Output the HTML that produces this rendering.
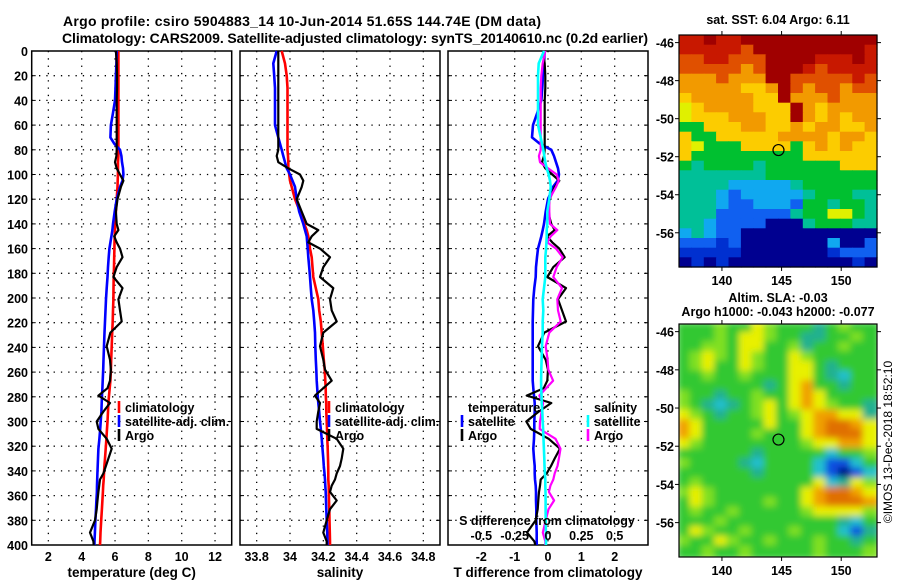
<!DOCTYPE html>
<html><head><meta charset="utf-8"><style>
body{margin:0;background:#fff;}
svg{display:block;font-family:"Liberation Sans",sans-serif;font-weight:bold;}
</style></head><body>
<svg id="fig" width="900" height="580" viewBox="0 0 900 580">
<defs>
<filter id="blur" x="0" y="0" width="1" height="1"><feGaussianBlur stdDeviation="3.5"/></filter>
<clipPath id="clipMap2"><rect x="679" y="324" width="198" height="233"/></clipPath>
</defs>
<g id="titles">
<text x="302" y="26" font-size="14" text-anchor="middle" textLength="478">Argo profile: csiro 5904883_14 10-Jun-2014 51.65S 144.74E (DM data)</text>
<text x="355" y="43" font-size="14" text-anchor="middle" textLength="586">Climatology: CARS2009. Satellite-adjusted climatology: synTS_20140610.nc (0.2d earlier)</text>
</g>
<g id="panels"></g>
<g id="maps"></g>
<text transform="translate(892,442) rotate(-90)" font-size="12" font-weight="normal" text-anchor="middle">©IMOS 13-Dec-2018 18:52:10</text>
</svg>
<script>
// ---- data ----
const depths = [0,10,20,30,40,50,60,70,75,80,85,90,95,100,105,110,120,130,140,145,150,155,160,167,175,183,192,201,210,219,228,239,250,258,267,273,279,285,292,300,306,314,322,330,336,342,347,352,357,364,371,380,390,397,400];
const climT = [6.2,6.2,6.2,6.2,6.2,6.2,6.2,6.2,6.2,6.2,6.2,6.18,6.18,6.17,6.16,6.15,6.1,6.05,6.0,6.0,5.98,5.97,5.96,5.95,5.94,5.92,5.91,5.9,5.88,5.86,5.83,5.8,5.77,5.75,5.72,5.68,5.64,5.6,5.58,5.55,5.52,5.48,5.44,5.4,5.36,5.34,5.32,5.29,5.27,5.24,5.21,5.17,5.13,5.11,5.1];
const satT = [6.1,6.08,6.05,6.03,6.0,5.88,5.75,5.72,5.95,6.3,6.38,6.42,6.48,6.5,6.45,6.3,6.1,5.98,5.88,5.84,5.78,5.72,5.66,5.62,5.58,5.55,5.5,5.46,5.43,5.4,5.37,5.34,5.31,5.29,5.26,5.24,5.22,5.2,5.18,5.14,5.11,5.06,5.0,4.98,4.96,4.94,4.93,4.92,4.91,4.88,4.86,4.82,4.79,4.77,4.76];
const argoT = [6.05,6.1,6.12,6.12,6.1,6.1,6.1,6.1,6.1,6.1,6.08,6.0,6.1,6.3,6.5,6.35,6.15,6.05,6.1,6.2,5.95,6.1,6.3,6.45,6.1,5.9,6.45,6.2,6.3,6.4,5.72,5.5,5.7,5.75,5.7,5.55,5.0,5.7,5.3,4.9,5.0,5.5,5.8,5.6,5.45,5.3,5.1,5.05,5.0,4.95,4.9,4.8,4.5,4.7,4.72];
const climS = [33.95,33.97,33.98,33.985,33.985,33.985,33.985,33.985,33.985,33.985,33.988,33.99,33.99,33.995,34.0,34.01,34.03,34.06,34.085,34.1,34.11,34.115,34.12,34.13,34.135,34.14,34.155,34.17,34.175,34.185,34.19,34.197,34.203,34.208,34.212,34.214,34.215,34.217,34.218,34.22,34.222,34.224,34.226,34.228,34.229,34.23,34.23,34.232,34.233,34.234,34.236,34.237,34.239,34.24,34.24];
const satS = [33.92,33.9,33.905,33.91,33.91,33.91,33.91,33.93,33.94,33.95,33.96,33.97,33.98,34.0,34.015,34.03,34.04,34.055,34.08,34.09,34.1,34.103,34.106,34.11,34.115,34.12,34.125,34.13,34.14,34.145,34.15,34.152,34.155,34.158,34.16,34.163,34.166,34.17,34.175,34.18,34.185,34.19,34.195,34.2,34.203,34.207,34.21,34.212,34.214,34.216,34.218,34.22,34.223,34.225,34.225];
const argoS = [33.93,33.93,33.93,33.93,33.93,33.93,33.93,33.93,33.93,33.93,33.92,33.93,33.99,34.06,34.08,34.07,34.04,34.07,34.1,34.17,34.13,34.11,34.18,34.24,34.2,34.18,34.26,34.24,34.25,34.28,34.2,34.18,34.2,34.21,34.25,34.2,34.15,34.18,34.17,34.16,34.16,34.28,34.32,34.31,34.3,34.28,34.27,34.25,34.24,34.28,34.24,34.22,34.2,34.22,34.22];
const depthTicks = [0,20,40,60,80,100,120,140,160,180,200,220,240,260,280,300,320,340,360,380,400];
const tTicks = [2,4,6,8,10,12];
const sTicks = [33.8,34.0,34.2,34.4,34.6,34.8];
const sTickLabels = ["33.8","34","34.2","34.4","34.6","34.8"];
const dTTicks = [-2,-1,0,1,2];
const dSTicks = [-0.5,-0.25,0,0.25,0.5];
const latTicks = [-46,-48,-50,-52,-54,-56];
const lonTicks = [140,145,150];
const profileLon = 144.74, profileLat = -51.65;
const sstRows = [
"RRDRRDDDDDDDDDDD","RRRRREDDDDDDDDDR","EERREEEDDDDRRRDR","EEEEEOEDDDRERRRR",
"OOOEOOODDEEEEERE","OOOOOYYODEOEEOEE","YOOOOOYYDOOOEOOO","yYOOOOYYYDOYOOOO",
"yYYYOOOYYDOYOYOO","GGYYYOOYYOYOOYYO","YGGYYYYYOOOOYOOY","YyGGGYYYYGYOYOYY",
"YGGGGGGGGGYYYYYY","GTGGGGTGGGGGGYYY","TTTTTTTGGGGGGGGG","TTTTCCCCCTGGGGGG",
"TTTCBCCCCCTGGGTT","TTTCBBCCCBGGTGGT","TTTBBBBBBTGGyyGT","TTCBBBBNNNTGGGTT",
"CTCBBNNNNNNNNNNN","BBBbBNNNNNNNCNNB","bbbbbNNNNNNNbBBB","NbNbNNNNNNNNNNbN"];
const slaRows = [
"GGGLGGyLGGGtGLGG","GGGLGyyLGGttGGLG","GGLLGyyGGLtGGLGG","GLyLGyLGGyLGGGGG",
"GLyGGyLGGyyGtGGG","GGLGGLGGGyyGtcGG","GGGGGGGtGyoGGtGG","LGGtGGLGGyoyGGGG",
"LGtctGLyGyoyLGGt","yLGtGGLyGLyooyyt","oyGGGGGyGGyoOOoy","oyGGGGLGGGyoOOOy",
"yLGGGGGGGGLyyooy","GGGGGGtGGGGGcGGL","LGGGGtcGGGGcBBcG","GGGGGGtGGGGcBNBc",
"GLGGGGGGGGGyctyL","LyLGGGGGGGyoOOoy","GyLGGGGLGGyoOOOo","GLGGLGGGGGLyyyyL",
"GGGLGGGGGGGGGtcG","GyLGGLGGGLGGGcBt","LGGyLGGLGGGLGGtG","GGLGGLGGGGGLGGGL"];

// ---- helpers ----
const NS="http://www.w3.org/2000/svg";
function mk(tag,attrs,parent){const e=document.createElementNS(NS,tag);for(const k in attrs)e.setAttribute(k,attrs[k]);parent.appendChild(e);return e;}
const TOP=51,BOT=545;
const yD=d=>TOP+(d/400)*(BOT-TOP);
const panelsG=document.getElementById('panels');

function panel(name,x0,x1,vmin,vmax,ticks,labels,xtitle){
  const g=mk('g',{},panelsG);
  
  
  const sx=v=>x0+(v-vmin)/(vmax-vmin)*(x1-x0);
  depthTicks.forEach(d=>{
    if(d>0&&d<400){const l=mk('line',{x1:x0,x2:x1,y1:yD(d),y2:yD(d),stroke:'#000','stroke-width':1.3,'stroke-dasharray':'1.3 6'},g);
    }
    mk('line',{x1:x0,x2:x0+4,y1:yD(d),y2:yD(d),stroke:'#000','stroke-width':1},g);
    mk('line',{x1:x1-4,x2:x1,y1:yD(d),y2:yD(d),stroke:'#000','stroke-width':1},g);
  });
  ticks.forEach((t,i)=>{
    const x=sx(t);
    const l=mk('line',{x1:x,x2:x,y1:TOP,y2:BOT,stroke:'#000','stroke-width':1.3,'stroke-dasharray':'1.3 6'},g);
    
    const tx=mk('text',{x:x,y:561,'font-size':12.5,'text-anchor':'middle'},g);
    tx.textContent=labels[i];
    
  });
  const fr=mk('rect',{x:x0,y:TOP,width:x1-x0,height:BOT-TOP,fill:'none',stroke:'#000','stroke-width':1.5},g);
  
  const tt=mk('text',{x:(x0+x1)/2,y:577,'font-size':13.5,'text-anchor':'middle'},g);
  tt.textContent=xtitle;
  
  return {g,sx};
}
function series(g,sx,vals,color,name,w){
  const pts=vals.map((v,i)=>sx(v).toFixed(1)+','+yD(depths[i]).toFixed(1)).join(' ');
  const p=mk('polyline',{points:pts,fill:'none',stroke:color,'stroke-width':w||2.6,'stroke-linejoin':'round'},g);
  
  
}
function legendEntry(g,x,y,color,label,name){
  const e=mk('g',{},g);
  
  
  mk('line',{x1:x,x2:x,y1:y-11,y2:y+1,stroke:color,'stroke-width':2.6},e);
  const t=mk('text',{x:x+6,y:y,'font-size':12.5},e);t.textContent=label;
}

depthTicks.forEach(d=>{
  const t=mk('text',{x:28,y:yD(d)+5,'font-size':12.5,'text-anchor':'end'},panelsG);
  t.textContent=d;
  
  
});

const p1=panel('temperature-panel',31.7,231.7,1,13,tTicks,tTicks.map(String),'temperature (deg C)');
series(p1.g,p1.sx,climT,'#ff0000','climatology-temperature-line');
series(p1.g,p1.sx,satT,'#0000ff','satellite-temperature-line');
series(p1.g,p1.sx,argoT,'#000000','argo-temperature-line',2.2);
legendEntry(p1.g,119,412,'#ff0000','climatology','legend-climatology');
legendEntry(p1.g,119,426,'#0000ff','satellite-adj. clim.','legend-satellite-adj');
legendEntry(p1.g,119,440,'#000000','Argo','legend-argo');

const p2=panel('salinity-panel',240,440,33.7,34.9,sTicks,sTickLabels,'salinity');
series(p2.g,p2.sx,climS,'#ff0000','climatology-salinity-line');
series(p2.g,p2.sx,satS,'#0000ff','satellite-salinity-line');
series(p2.g,p2.sx,argoS,'#000000','argo-salinity-line',2.2);
legendEntry(p2.g,329,412,'#ff0000','climatology','legend-climatology-2');
legendEntry(p2.g,329,426,'#0000ff','satellite-adj. clim.','legend-satellite-adj-2');
legendEntry(p2.g,329,440,'#000000','Argo','legend-argo-2');

const p3=panel('difference-panel',448,648,-3,3,dTTicks,dTTicks.map(String),'T difference from climatology');
const sxS=v=>p3.sx(v*4);
series(p3.g,p3.sx,satT.map((v,i)=>v-climT[i]),'#0000ff','satellite-T-difference-line');
series(p3.g,p3.sx,argoT.map((v,i)=>v-climT[i]),'#000000','argo-T-difference-line',2.2);
series(p3.g,sxS,argoS.map((v,i)=>v-climS[i]),'#ff00ff','argo-S-difference-line',2.2);
series(p3.g,sxS,satS.map((v,i)=>v-climS[i]),'#00ffff','satellite-S-difference-line');
const lt=mk('text',{x:468,y:412,'font-size':12.5},p3.g);lt.textContent='temperature';

legendEntry(p3.g,462,426,'#0000ff','satellite','legend-T-satellite');
legendEntry(p3.g,462,440,'#000000','Argo','legend-T-argo');
const ls=mk('text',{x:594,y:412,'font-size':12.5},p3.g);ls.textContent='salinity';

legendEntry(p3.g,588,426,'#00ffff','satellite','legend-S-satellite');
legendEntry(p3.g,588,440,'#ff00ff','Argo','legend-S-argo');
const sdt=mk('text',{x:547,y:525,'font-size':12.5,'text-anchor':'middle'},p3.g);sdt.textContent='S difference from climatology';

dSTicks.forEach(t=>{
  const e=mk('text',{x:sxS(t),y:540,'font-size':12.5,'text-anchor':'middle'},p3.g);
  e.textContent=String(t);
  
  
});

// ---- maps ----
const mapsG=document.getElementById('maps');
const pal1={D:'#a00000',R:'#c81800',E:'#e05000',O:'#f29a00',Y:'#fccc00',y:'#e0f000',G:'#00c030',T:'#00c098',C:'#10a8f0',B:'#1060f0',b:'#0030d0',N:'#000090'};
const pal2={G:'#30c830',L:'#80e020',y:'#e8f000',o:'#f0a000',O:'#e07000',t:'#20b090',c:'#20c0d0',B:'#1050e0',N:'#000080'};
function map(name,x0,y0,x1,y1,rows,pal,blur,lines,titleBase){
  const g=mk('g',{},mapsG);
  
  
  const lonMin=136.4,lonMax=153.0,latTop=-45.6,latBot=-57.8;
  const sx=l=>x0+(l-lonMin)/(lonMax-lonMin)*(x1-x0);
  const sy=l=>y0+(latTop-l)/(latTop-latBot)*(y1-y0);
  const cg=mk('g',blur?{filter:'url(#blur)','clip-path':'url(#clipMap2)'}:{},g);
  const nr=rows.length,nc=rows[0].length,cw=(x1-x0)/nc,ch=(y1-y0)/nr;
  rows.forEach((r,i)=>{for(let j=0;j<nc;j++){
    mk('rect',{x:(x0+j*cw-(blur?2:0)).toFixed(1),y:(y0+i*ch-(blur?2:0)).toFixed(1),width:(cw+0.6+(blur?4:0)).toFixed(1),height:(ch+0.6+(blur?4:0)).toFixed(1),fill:pal[r[j]]},cg);
  }});
  mk('rect',{x:x0,y:y0,width:x1-x0,height:y1-y0,fill:'none',stroke:'#000','stroke-width':1.2},g);
  latTicks.forEach(l=>{
    const y=sy(l);
    mk('line',{x1:x0-4,x2:x0,y1:y,y2:y,stroke:'#000'},g);
    mk('line',{x1:x1,x2:x1+4,y1:y,y2:y,stroke:'#000'},g);
    const t=mk('text',{x:x0-5,y:y+5,'font-size':12.5,'text-anchor':'end'},g);t.textContent=l;
    
  });
  lonTicks.forEach(l=>{
    const x=sx(l);
    mk('line',{x1:x,x2:x,y1:y0-4,y2:y0,stroke:'#000'},g);
    mk('line',{x1:x,x2:x,y1:y1,y2:y1+4,stroke:'#000'},g);
    const t=mk('text',{x:x,y:y1+18,'font-size':12.5,'text-anchor':'middle'},g);t.textContent=l;
    
  });
  const c=mk('circle',{cx:sx(profileLon),cy:sy(profileLat),r:5.5,fill:'none',stroke:'#000','stroke-width':1.2},g);
  
  lines.forEach((s,i)=>{
    const t=mk('text',{x:(x0+x1)/2,y:titleBase+14*i,'font-size':12.5,'text-anchor':'middle'},g);
    t.textContent=s;
  });
}
map('sst-map',679,35,877,267,sstRows,pal1,false,['sat. SST: 6.04 Argo: 6.11'],24);
map('sla-map',679,324,877,557,slaRows,pal2,true,['Altim. SLA: -0.03','Argo h1000: -0.043 h2000: -0.077'],302);
</script>
</body></html>
